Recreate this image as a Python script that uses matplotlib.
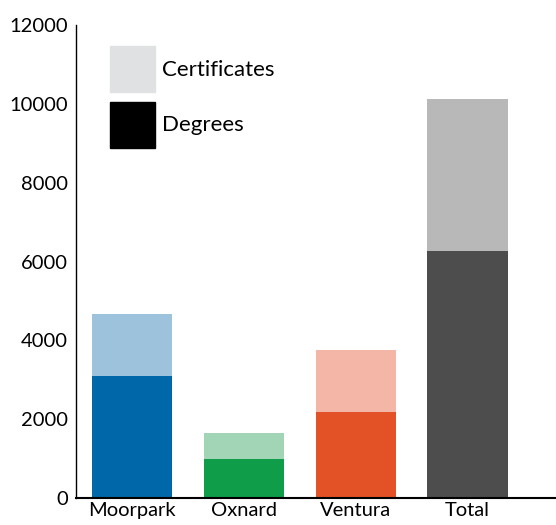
import matplotlib.pyplot as plt
from matplotlib.patches import Patch

# campus values
campuses = ["Moorpark", "Oxnard", "Ventura", "Total"]
degrees = [3090, 990, 2180, 6280]
certificates = [1590, 655, 1570, 3850]

degree_colors = ["#0068a8", "#0f9d4a", "#e35226", "#4d4d4d"]
cert_colors = ["#9cc2dc", "#a2d5b6", "#f3b6a7", "#b7b8b7"]

plt.rcParams["font.family"] = ["Lato", "DejaVu Sans"]

fig = plt.figure(figsize=(5.56, 5.25), dpi=100)
ax = fig.add_axes([0.137, 0.0514, 0.863, 0.9006])

x = list(range(len(campuses)))
ax.bar(x, degrees, width=0.72, color=degree_colors)
ax.bar(x, certificates, width=0.72, bottom=degrees, color=cert_colors)

ax.set_xlim(-0.5, 3.79)
ax.set_ylim(0, 12000)
ax.set_yticks(range(0, 12001, 2000))
ax.set_xticks(x)
ax.set_xticklabels(campuses)
ax.tick_params(length=0, labelsize=14.5, pad=6)
ax.tick_params(axis="x", pad=3)
for s in ["top", "right"]:
    ax.spines[s].set_visible(False)
ax.spines["left"].set_linewidth(1)
ax.spines["bottom"].set_linewidth(1.5)

handles = [Patch(color="#e0e1e3"), Patch(color="black")]
ax.legend(handles, ["Certificates", "Degrees"], loc="upper left",
          bbox_to_anchor=(0.071, 0.956), frameon=False, fontsize=16,
          borderpad=0, borderaxespad=0,
          handlelength=2.0, handleheight=2.8, handletextpad=0.35,
          labelspacing=0.45)

fig.savefig("out.png")
